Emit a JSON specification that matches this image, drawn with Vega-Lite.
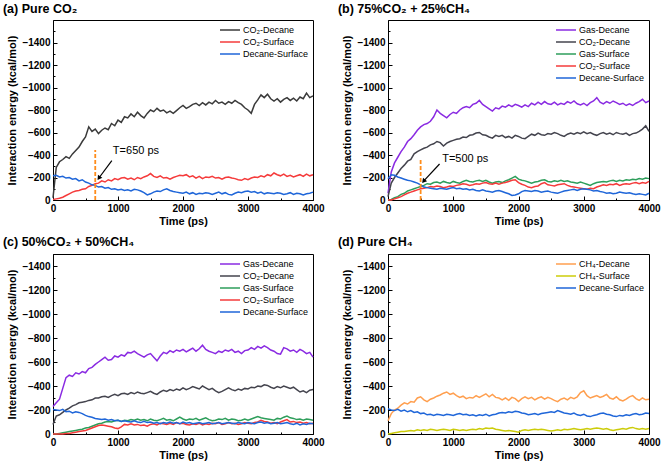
{
"$schema":"https://vega.github.io/schema/vega-lite/v6.json",
"background":"white",
"padding":{"left":2,"top":2,"right":5,"bottom":3},
"config":{
 "font":"Liberation Sans",
 "view":{"stroke":"black","strokeWidth":1},
 "axis":{"labelFont":"Liberation Sans","titleFont":"Liberation Sans","labelFontSize":10,"labelFontWeight":"bold","titleFontSize":11,"titleFontWeight":"bold","labelColor":"black","titleColor":"black","domainColor":"black","tickColor":"black","grid":false,"tickSize":-4,"labelPadding":7,"labelFlush":false,"labelOverlap":false},
 "axisX":{"titlePadding":2},
 "axisY":{"titlePadding":4},
 "legend":{"orient":"top-right","offset":3,"padding":1,"labelFont":"Liberation Sans","labelFontSize":9,"labelColor":"black","symbolType":"M-2,0H2","symbolSize":100,"symbolStrokeWidth":2,"labelOffset":7,"rowPadding":1},
 "title":{"anchor":"start","frame":"bounds","font":"Liberation Sans","fontSize":12.5,"fontWeight":"bold","color":"black","offset":5,"dx":-4},
 "line":{"strokeWidth":1.5}
},
"datasets":{
"a":[
{"t":0,"k":-20,"r":-5,"b":-215},{"t":50,"k":-290,"r":-10,"b":-220},{"t":100,"k":-340,"r":-15,"b":-205},{"t":150,"k":-360,"r":-25,"b":-210},{"t":200,"k":-385,"r":-40,"b":-195},{"t":250,"k":-370,"r":-55,"b":-200},{"t":300,"k":-410,"r":-70,"b":-185},{"t":350,"k":-440,"r":-80,"b":-190},{"t":400,"k":-470,"r":-85,"b":-170},{"t":450,"k":-520,"r":-95,"b":-180},{"t":500,"k":-560,"r":-100,"b":-160},{"t":550,"k":-650,"r":-120,"b":-150},{"t":600,"k":-610,"r":-130,"b":-135},{"t":650,"k":-630,"r":-145,"b":-130},{"t":700,"k":-590,"r":-150,"b":-115},{"t":750,"k":-620,"r":-170,"b":-120},{"t":800,"k":-640,"r":-160,"b":-105},{"t":850,"k":-625,"r":-180,"b":-110},{"t":900,"k":-680,"r":-170,"b":-95},{"t":950,"k":-660,"r":-190,"b":-100},{"t":1000,"k":-710,"r":-180,"b":-90},{"t":1050,"k":-690,"r":-195,"b":-95},{"t":1100,"k":-740,"r":-200,"b":-85},{"t":1150,"k":-730,"r":-185,"b":-90},{"t":1200,"k":-765,"r":-195,"b":-80},{"t":1250,"k":-740,"r":-180,"b":-95},{"t":1300,"k":-780,"r":-200,"b":-90},{"t":1350,"k":-750,"r":-190,"b":-80},{"t":1400,"k":-730,"r":-205,"b":-65},{"t":1450,"k":-770,"r":-215,"b":-45},{"t":1500,"k":-800,"r":-235,"b":-55},{"t":1550,"k":-785,"r":-210,"b":-70},{"t":1600,"k":-815,"r":-200,"b":-80},{"t":1650,"k":-790,"r":-215,"b":-75},{"t":1700,"k":-800,"r":-195,"b":-90},{"t":1750,"k":-775,"r":-200,"b":-100},{"t":1800,"k":-790,"r":-185,"b":-85},{"t":1850,"k":-770,"r":-200,"b":-75},{"t":1900,"k":-795,"r":-210,"b":-70},{"t":1950,"k":-820,"r":-220,"b":-65},{"t":2000,"k":-840,"r":-215,"b":-60},{"t":2050,"k":-815,"r":-225,"b":-70},{"t":2100,"k":-830,"r":-205,"b":-55},{"t":2150,"k":-850,"r":-215,"b":-65},{"t":2200,"k":-860,"r":-195,"b":-50},{"t":2250,"k":-840,"r":-210,"b":-60},{"t":2300,"k":-865,"r":-190,"b":-55},{"t":2350,"k":-845,"r":-205,"b":-65},{"t":2400,"k":-870,"r":-200,"b":-60},{"t":2450,"k":-855,"r":-210,"b":-50},{"t":2500,"k":-885,"r":-195,"b":-60},{"t":2550,"k":-860,"r":-200,"b":-70},{"t":2600,"k":-870,"r":-185,"b":-55},{"t":2650,"k":-850,"r":-200,"b":-65},{"t":2700,"k":-875,"r":-205,"b":-50},{"t":2750,"k":-860,"r":-195,"b":-45},{"t":2800,"k":-885,"r":-190,"b":-60},{"t":2850,"k":-865,"r":-180,"b":-70},{"t":2900,"k":-850,"r":-175,"b":-65},{"t":2950,"k":-820,"r":-190,"b":-75},{"t":3000,"k":-800,"r":-180,"b":-80},{"t":3050,"k":-770,"r":-195,"b":-70},{"t":3100,"k":-850,"r":-205,"b":-75},{"t":3150,"k":-890,"r":-200,"b":-60},{"t":3200,"k":-935,"r":-215,"b":-70},{"t":3250,"k":-910,"r":-205,"b":-55},{"t":3300,"k":-940,"r":-225,"b":-65},{"t":3350,"k":-900,"r":-215,"b":-60},{"t":3400,"k":-880,"r":-240,"b":-55},{"t":3450,"k":-900,"r":-225,"b":-65},{"t":3500,"k":-870,"r":-215,"b":-60},{"t":3550,"k":-895,"r":-230,"b":-50},{"t":3600,"k":-910,"r":-210,"b":-55},{"t":3650,"k":-885,"r":-220,"b":-65},{"t":3700,"k":-905,"r":-205,"b":-50},{"t":3750,"k":-880,"r":-215,"b":-60},{"t":3800,"k":-915,"r":-225,"b":-55},{"t":3850,"k":-900,"r":-210,"b":-45},{"t":3900,"k":-950,"r":-230,"b":-55},{"t":3950,"k":-910,"r":-215,"b":-60},{"t":4000,"k":-925,"r":-225,"b":-70}
],
"b":[
{"t":0,"g":-60,"k":-30,"gs":0,"r":0,"b":-190},{"t":50,"g":-250,"k":-150,"gs":-5,"r":0,"b":-225},{"t":100,"g":-330,"k":-200,"gs":-20,"r":-10,"b":-220},{"t":150,"g":-380,"k":-240,"gs":-30,"r":-20,"b":-205},{"t":200,"g":-430,"k":-280,"gs":-50,"r":-30,"b":-195},{"t":250,"g":-470,"k":-310,"gs":-60,"r":-45,"b":-185},{"t":300,"g":-520,"k":-345,"gs":-80,"r":-60,"b":-175},{"t":350,"g":-545,"k":-360,"gs":-90,"r":-70,"b":-170},{"t":400,"g":-580,"k":-410,"gs":-100,"r":-80,"b":-160},{"t":450,"g":-620,"k":-430,"gs":-110,"r":-90,"b":-150},{"t":500,"g":-650,"k":-445,"gs":-120,"r":-100,"b":-135},{"t":550,"g":-670,"k":-460,"gs":-130,"r":-105,"b":-115},{"t":600,"g":-680,"k":-470,"gs":-145,"r":-110,"b":-110},{"t":650,"g":-700,"k":-490,"gs":-140,"r":-120,"b":-105},{"t":700,"g":-740,"k":-500,"gs":-155,"r":-115,"b":-100},{"t":750,"g":-800,"k":-520,"gs":-160,"r":-125,"b":-95},{"t":800,"g":-770,"k":-510,"gs":-150,"r":-120,"b":-105},{"t":850,"g":-750,"k":-480,"gs":-165,"r":-110,"b":-100},{"t":900,"g":-730,"k":-505,"gs":-155,"r":-115,"b":-95},{"t":950,"g":-760,"k":-520,"gs":-150,"r":-125,"b":-105},{"t":1000,"g":-780,"k":-530,"gs":-165,"r":-120,"b":-110},{"t":1050,"g":-770,"k":-540,"gs":-155,"r":-130,"b":-100},{"t":1100,"g":-800,"k":-545,"gs":-150,"r":-135,"b":-105},{"t":1150,"g":-820,"k":-560,"gs":-165,"r":-145,"b":-95},{"t":1200,"g":-830,"k":-555,"gs":-175,"r":-140,"b":-100},{"t":1250,"g":-820,"k":-575,"gs":-165,"r":-130,"b":-90},{"t":1300,"g":-850,"k":-580,"gs":-160,"r":-135,"b":-95},{"t":1350,"g":-860,"k":-595,"gs":-170,"r":-145,"b":-85},{"t":1400,"g":-885,"k":-600,"gs":-175,"r":-140,"b":-80},{"t":1450,"g":-850,"k":-580,"gs":-165,"r":-150,"b":-90},{"t":1500,"g":-830,"k":-575,"gs":-175,"r":-155,"b":-80},{"t":1550,"g":-810,"k":-560,"gs":-160,"r":-145,"b":-75},{"t":1600,"g":-790,"k":-550,"gs":-150,"r":-140,"b":-70},{"t":1650,"g":-820,"k":-575,"gs":-160,"r":-150,"b":-80},{"t":1700,"g":-810,"k":-565,"gs":-165,"r":-140,"b":-85},{"t":1750,"g":-835,"k":-575,"gs":-155,"r":-150,"b":-75},{"t":1800,"g":-825,"k":-555,"gs":-170,"r":-155,"b":-65},{"t":1850,"g":-845,"k":-565,"gs":-180,"r":-165,"b":-55},{"t":1900,"g":-830,"k":-550,"gs":-195,"r":-175,"b":-40},{"t":1950,"g":-850,"k":-575,"gs":-210,"r":-180,"b":-45},{"t":2000,"g":-840,"k":-565,"gs":-185,"r":-155,"b":-55},{"t":2050,"g":-825,"k":-550,"gs":-175,"r":-140,"b":-75},{"t":2100,"g":-845,"k":-545,"gs":-170,"r":-130,"b":-85},{"t":2150,"g":-830,"k":-565,"gs":-160,"r":-115,"b":-80},{"t":2200,"g":-860,"k":-585,"gs":-150,"r":-110,"b":-75},{"t":2250,"g":-845,"k":-575,"gs":-160,"r":-120,"b":-85},{"t":2300,"g":-870,"k":-595,"gs":-165,"r":-125,"b":-80},{"t":2350,"g":-850,"k":-580,"gs":-175,"r":-145,"b":-70},{"t":2400,"g":-875,"k":-575,"gs":-180,"r":-155,"b":-75},{"t":2450,"g":-855,"k":-590,"gs":-165,"r":-135,"b":-80},{"t":2500,"g":-850,"k":-585,"gs":-160,"r":-130,"b":-70},{"t":2550,"g":-870,"k":-600,"gs":-170,"r":-125,"b":-65},{"t":2600,"g":-845,"k":-590,"gs":-165,"r":-135,"b":-60},{"t":2650,"g":-860,"k":-575,"gs":-175,"r":-140,"b":-70},{"t":2700,"g":-850,"k":-565,"gs":-165,"r":-145,"b":-80},{"t":2750,"g":-875,"k":-585,"gs":-170,"r":-130,"b":-85},{"t":2800,"g":-860,"k":-595,"gs":-160,"r":-120,"b":-90},{"t":2850,"g":-880,"k":-585,"gs":-155,"r":-115,"b":-95},{"t":2900,"g":-855,"k":-600,"gs":-150,"r":-110,"b":-85},{"t":2950,"g":-845,"k":-590,"gs":-160,"r":-105,"b":-95},{"t":3000,"g":-860,"k":-605,"gs":-150,"r":-100,"b":-100},{"t":3050,"g":-840,"k":-590,"gs":-140,"r":-95,"b":-95},{"t":3100,"g":-865,"k":-600,"gs":-130,"r":-105,"b":-90},{"t":3150,"g":-880,"k":-585,"gs":-145,"r":-100,"b":-80},{"t":3200,"g":-910,"k":-575,"gs":-155,"r":-115,"b":-85},{"t":3250,"g":-870,"k":-590,"gs":-160,"r":-125,"b":-75},{"t":3300,"g":-855,"k":-600,"gs":-165,"r":-135,"b":-70},{"t":3350,"g":-875,"k":-585,"gs":-160,"r":-130,"b":-60},{"t":3400,"g":-860,"k":-595,"gs":-170,"r":-140,"b":-65},{"t":3450,"g":-880,"k":-580,"gs":-175,"r":-135,"b":-55},{"t":3500,"g":-865,"k":-600,"gs":-165,"r":-145,"b":-60},{"t":3550,"g":-850,"k":-590,"gs":-175,"r":-130,"b":-70},{"t":3600,"g":-860,"k":-585,"gs":-170,"r":-140,"b":-65},{"t":3650,"g":-840,"k":-595,"gs":-180,"r":-145,"b":-60},{"t":3700,"g":-855,"k":-575,"gs":-175,"r":-140,"b":-65},{"t":3750,"g":-840,"k":-590,"gs":-185,"r":-150,"b":-55},{"t":3800,"g":-860,"k":-595,"gs":-180,"r":-155,"b":-50},{"t":3850,"g":-875,"k":-610,"gs":-190,"r":-145,"b":-55},{"t":3900,"g":-895,"k":-630,"gs":-185,"r":-155,"b":-50},{"t":3950,"g":-865,"k":-660,"gs":-195,"r":-150,"b":-45},{"t":4000,"g":-880,"k":-610,"gs":-190,"r":-165,"b":-60}
],
"c":[
{"t":0,"g":-230,"k":-80,"gs":0,"r":0,"b":-205},{"t":50,"g":-260,"k":-150,"gs":0,"r":0,"b":-200},{"t":100,"g":-290,"k":-160,"gs":-5,"r":0,"b":-195},{"t":150,"g":-380,"k":-180,"gs":-10,"r":0,"b":-205},{"t":200,"g":-470,"k":-200,"gs":-15,"r":-5,"b":-185},{"t":250,"g":-490,"k":-215,"gs":-20,"r":-5,"b":-190},{"t":300,"g":-480,"k":-235,"gs":-25,"r":-10,"b":-175},{"t":350,"g":-510,"k":-245,"gs":-30,"r":-15,"b":-185},{"t":400,"g":-500,"k":-260,"gs":-35,"r":-20,"b":-180},{"t":450,"g":-520,"k":-265,"gs":-40,"r":-25,"b":-170},{"t":500,"g":-510,"k":-270,"gs":-50,"r":-30,"b":-155},{"t":550,"g":-545,"k":-280,"gs":-55,"r":-40,"b":-145},{"t":600,"g":-555,"k":-285,"gs":-65,"r":-50,"b":-140},{"t":650,"g":-580,"k":-300,"gs":-75,"r":-60,"b":-130},{"t":700,"g":-600,"k":-300,"gs":-85,"r":-70,"b":-125},{"t":750,"g":-620,"k":-310,"gs":-90,"r":-75,"b":-120},{"t":800,"g":-640,"k":-315,"gs":-100,"r":-70,"b":-125},{"t":850,"g":-615,"k":-305,"gs":-105,"r":-65,"b":-115},{"t":900,"g":-620,"k":-320,"gs":-100,"r":-60,"b":-120},{"t":950,"g":-650,"k":-330,"gs":-110,"r":-50,"b":-110},{"t":1000,"g":-640,"k":-320,"gs":-115,"r":-45,"b":-115},{"t":1050,"g":-660,"k":-335,"gs":-105,"r":-60,"b":-105},{"t":1100,"g":-650,"k":-340,"gs":-115,"r":-80,"b":-110},{"t":1150,"g":-680,"k":-330,"gs":-110,"r":-75,"b":-105},{"t":1200,"g":-675,"k":-345,"gs":-120,"r":-85,"b":-100},{"t":1250,"g":-690,"k":-335,"gs":-115,"r":-75,"b":-110},{"t":1300,"g":-670,"k":-350,"gs":-125,"r":-80,"b":-100},{"t":1350,"g":-655,"k":-340,"gs":-115,"r":-70,"b":-95},{"t":1400,"g":-640,"k":-335,"gs":-120,"r":-75,"b":-105},{"t":1450,"g":-660,"k":-345,"gs":-110,"r":-65,"b":-95},{"t":1500,"g":-670,"k":-355,"gs":-125,"r":-80,"b":-100},{"t":1550,"g":-640,"k":-340,"gs":-115,"r":-85,"b":-90},{"t":1600,"g":-610,"k":-330,"gs":-110,"r":-75,"b":-95},{"t":1650,"g":-650,"k":-350,"gs":-120,"r":-90,"b":-85},{"t":1700,"g":-680,"k":-365,"gs":-130,"r":-85,"b":-95},{"t":1750,"g":-670,"k":-355,"gs":-115,"r":-80,"b":-90},{"t":1800,"g":-695,"k":-370,"gs":-120,"r":-90,"b":-100},{"t":1850,"g":-680,"k":-360,"gs":-110,"r":-80,"b":-90},{"t":1900,"g":-700,"k":-375,"gs":-125,"r":-95,"b":-95},{"t":1950,"g":-690,"k":-365,"gs":-140,"r":-85,"b":-85},{"t":2000,"g":-705,"k":-385,"gs":-125,"r":-90,"b":-100},{"t":2050,"g":-685,"k":-370,"gs":-115,"r":-80,"b":-90},{"t":2100,"g":-700,"k":-380,"gs":-125,"r":-75,"b":-95},{"t":2150,"g":-715,"k":-395,"gs":-120,"r":-85,"b":-85},{"t":2200,"g":-690,"k":-385,"gs":-130,"r":-80,"b":-90},{"t":2250,"g":-710,"k":-375,"gs":-115,"r":-90,"b":-95},{"t":2300,"g":-740,"k":-400,"gs":-125,"r":-75,"b":-85},{"t":2350,"g":-705,"k":-385,"gs":-135,"r":-85,"b":-90},{"t":2400,"g":-690,"k":-370,"gs":-120,"r":-80,"b":-95},{"t":2450,"g":-680,"k":-380,"gs":-110,"r":-90,"b":-85},{"t":2500,"g":-670,"k":-360,"gs":-115,"r":-85,"b":-90},{"t":2550,"g":-690,"k":-345,"gs":-125,"r":-95,"b":-95},{"t":2600,"g":-680,"k":-355,"gs":-120,"r":-80,"b":-85},{"t":2650,"g":-700,"k":-370,"gs":-130,"r":-85,"b":-90},{"t":2700,"g":-690,"k":-385,"gs":-115,"r":-95,"b":-95},{"t":2750,"g":-705,"k":-370,"gs":-125,"r":-85,"b":-90},{"t":2800,"g":-680,"k":-360,"gs":-120,"r":-90,"b":-85},{"t":2850,"g":-690,"k":-375,"gs":-110,"r":-80,"b":-95},{"t":2900,"g":-670,"k":-365,"gs":-115,"r":-85,"b":-90},{"t":2950,"g":-695,"k":-380,"gs":-125,"r":-95,"b":-85},{"t":3000,"g":-700,"k":-375,"gs":-115,"r":-90,"b":-95},{"t":3050,"g":-720,"k":-390,"gs":-125,"r":-85,"b":-90},{"t":3100,"g":-705,"k":-385,"gs":-135,"r":-95,"b":-85},{"t":3150,"g":-730,"k":-400,"gs":-145,"r":-100,"b":-95},{"t":3200,"g":-715,"k":-395,"gs":-135,"r":-115,"b":-100},{"t":3250,"g":-735,"k":-410,"gs":-130,"r":-105,"b":-90},{"t":3300,"g":-720,"k":-405,"gs":-125,"r":-100,"b":-95},{"t":3350,"g":-700,"k":-390,"gs":-120,"r":-90,"b":-85},{"t":3400,"g":-690,"k":-380,"gs":-115,"r":-95,"b":-90},{"t":3450,"g":-670,"k":-395,"gs":-130,"r":-85,"b":-95},{"t":3500,"g":-665,"k":-385,"gs":-125,"r":-100,"b":-85},{"t":3550,"g":-720,"k":-400,"gs":-140,"r":-110,"b":-90},{"t":3600,"g":-710,"k":-390,"gs":-150,"r":-120,"b":-95},{"t":3650,"g":-690,"k":-380,"gs":-135,"r":-100,"b":-85},{"t":3700,"g":-700,"k":-390,"gs":-130,"r":-105,"b":-80},{"t":3750,"g":-680,"k":-370,"gs":-120,"r":-95,"b":-90},{"t":3800,"g":-705,"k":-350,"gs":-125,"r":-100,"b":-75},{"t":3850,"g":-690,"k":-360,"gs":-115,"r":-90,"b":-85},{"t":3900,"g":-670,"k":-345,"gs":-125,"r":-95,"b":-80},{"t":3950,"g":-680,"k":-365,"gs":-120,"r":-85,"b":-90},{"t":4000,"g":-640,"k":-370,"gs":-115,"r":-90,"b":-85}
],
"d":[
{"t":0,"o":-110,"y":0,"b":-210},{"t":50,"o":-170,"y":-5,"b":-200},{"t":100,"o":-200,"y":-10,"b":-195},{"t":150,"o":-215,"y":-15,"b":-205},{"t":200,"o":-240,"y":-20,"b":-190},{"t":250,"o":-260,"y":-20,"b":-200},{"t":300,"o":-250,"y":-25,"b":-185},{"t":350,"o":-270,"y":-30,"b":-195},{"t":400,"o":-265,"y":-25,"b":-180},{"t":450,"o":-300,"y":-35,"b":-185},{"t":500,"o":-310,"y":-30,"b":-170},{"t":550,"o":-285,"y":-35,"b":-175},{"t":600,"o":-270,"y":-30,"b":-160},{"t":650,"o":-290,"y":-40,"b":-165},{"t":700,"o":-300,"y":-35,"b":-155},{"t":750,"o":-315,"y":-30,"b":-165},{"t":800,"o":-325,"y":-35,"b":-160},{"t":850,"o":-340,"y":-40,"b":-155},{"t":900,"o":-350,"y":-35,"b":-165},{"t":950,"o":-330,"y":-30,"b":-160},{"t":1000,"o":-340,"y":-40,"b":-155},{"t":1050,"o":-320,"y":-35,"b":-165},{"t":1100,"o":-305,"y":-30,"b":-170},{"t":1150,"o":-315,"y":-35,"b":-160},{"t":1200,"o":-295,"y":-30,"b":-165},{"t":1250,"o":-305,"y":-35,"b":-155},{"t":1300,"o":-300,"y":-40,"b":-160},{"t":1350,"o":-320,"y":-35,"b":-150},{"t":1400,"o":-305,"y":-45,"b":-160},{"t":1450,"o":-320,"y":-40,"b":-155},{"t":1500,"o":-335,"y":-50,"b":-165},{"t":1550,"o":-310,"y":-45,"b":-150},{"t":1600,"o":-330,"y":-50,"b":-160},{"t":1650,"o":-305,"y":-40,"b":-165},{"t":1700,"o":-300,"y":-35,"b":-175},{"t":1750,"o":-285,"y":-30,"b":-180},{"t":1800,"o":-300,"y":-25,"b":-175},{"t":1850,"o":-280,"y":-30,"b":-185},{"t":1900,"o":-305,"y":-25,"b":-180},{"t":1950,"o":-295,"y":-20,"b":-190},{"t":2000,"o":-270,"y":-15,"b":-185},{"t":2050,"o":-295,"y":-30,"b":-175},{"t":2100,"o":-310,"y":-35,"b":-170},{"t":2150,"o":-295,"y":-30,"b":-160},{"t":2200,"o":-305,"y":-35,"b":-165},{"t":2250,"o":-285,"y":-40,"b":-170},{"t":2300,"o":-300,"y":-35,"b":-160},{"t":2350,"o":-310,"y":-40,"b":-170},{"t":2400,"o":-290,"y":-35,"b":-175},{"t":2450,"o":-305,"y":-30,"b":-180},{"t":2500,"o":-295,"y":-25,"b":-185},{"t":2550,"o":-280,"y":-30,"b":-180},{"t":2600,"o":-270,"y":-35,"b":-195},{"t":2650,"o":-290,"y":-30,"b":-185},{"t":2700,"o":-300,"y":-40,"b":-175},{"t":2750,"o":-285,"y":-35,"b":-170},{"t":2800,"o":-305,"y":-40,"b":-165},{"t":2850,"o":-295,"y":-45,"b":-175},{"t":2900,"o":-310,"y":-40,"b":-160},{"t":2950,"o":-345,"y":-35,"b":-155},{"t":3000,"o":-360,"y":-40,"b":-165},{"t":3050,"o":-320,"y":-45,"b":-150},{"t":3100,"o":-300,"y":-40,"b":-145},{"t":3150,"o":-310,"y":-45,"b":-155},{"t":3200,"o":-320,"y":-50,"b":-160},{"t":3250,"o":-305,"y":-45,"b":-170},{"t":3300,"o":-315,"y":-40,"b":-175},{"t":3350,"o":-330,"y":-45,"b":-165},{"t":3400,"o":-300,"y":-35,"b":-160},{"t":3450,"o":-290,"y":-30,"b":-150},{"t":3500,"o":-310,"y":-35,"b":-145},{"t":3550,"o":-285,"y":-40,"b":-155},{"t":3600,"o":-275,"y":-45,"b":-150},{"t":3650,"o":-290,"y":-40,"b":-160},{"t":3700,"o":-310,"y":-50,"b":-155},{"t":3750,"o":-320,"y":-55,"b":-165},{"t":3800,"o":-295,"y":-45,"b":-170},{"t":3850,"o":-280,"y":-40,"b":-160},{"t":3900,"o":-300,"y":-45,"b":-165},{"t":3950,"o":-285,"y":-40,"b":-175},{"t":4000,"o":-290,"y":-45,"b":-170}
],
"arrowA":[{"t":905,"v":-350},{"t":712,"v":-200}],
"arrowB":[{"t":790,"v":-320},{"t":553,"v":-172}]
},
"spacing":8,
"resolve":{"scale":{"color":"independent"},"legend":{"color":"independent"}},
"vconcat":[
{"hconcat":[
 {"title":{"text":"(a) Pure CO₂"},"width":260,"height":180,
  "resolve":{"axis":{"x":"independent","y":"independent"}},
  "layer":[
   {"data":{"name":"a"},"transform":[{"fold":["k","r","b"],"as":["s","v"]}],
    "mark":{"type":"line"},
    "encoding":{
     "x":{"field":"t","type":"quantitative","scale":{"domain":[0,4000]},"axis":{"values":[0,1000,2000,3000,4000],"format":"d","title":"Time (ps)"}},
     "y":{"field":"v","type":"quantitative","scale":{"domain":[-1500,0],"reverse":true},"axis":{"values":[0,-200,-400,-600,-800,-1000,-1200,-1400],"format":"d","title":"Interaction energy (kcal/mol)"}},
     "color":{"field":"s","type":"nominal","title":null,"scale":{"domain":["k","r","b"],"range":["#3a3a3a","#f53b3b","#1f66d9"]},"legend":{"labelExpr":"datum.label=='k'?'CO₂-Decane':datum.label=='r'?'CO₂-Surface':'Decane-Surface'"}}}},
   {"data":{"name":"a"},"mark":{"type":"point","opacity":0},
    "encoding":{
     "x":{"field":"t","type":"quantitative","scale":{"domain":[0,4000]},"axis":{"values":[500,1500,2500,3500],"labels":false,"domain":false,"tickSize":-2,"title":null,"orient":"bottom"}},
     "y":{"field":"k","type":"quantitative","scale":{"domain":[-1500,0],"reverse":true},"axis":{"values":[-100,-300,-500,-700,-900,-1100,-1300,-1500],"labels":false,"domain":false,"tickSize":-2,"title":null,"orient":"left"}}}},
   {"data":{"values":[{"t":650,"v0":0,"v1":-445}]},"mark":{"type":"rule","color":"#ff8c1a","strokeWidth":1.8,"strokeDash":[4,2]},
    "encoding":{"x":{"field":"t","type":"quantitative","axis":null},"y":{"field":"v0","type":"quantitative","axis":null},"y2":{"field":"v1"}}},
   {"data":{"values":[{"t":921,"v":-440,"label":"T=650 ps"}]},"mark":{"type":"text","align":"left","baseline":"middle","fontSize":11,"color":"black"},
    "encoding":{"x":{"field":"t","type":"quantitative","axis":null},"y":{"field":"v","type":"quantitative","axis":null},"text":{"field":"label"}}},
   {"data":{"name":"arrowA"},"mark":{"type":"line","color":"black","strokeWidth":1.2},
    "encoding":{"x":{"field":"t","type":"quantitative","axis":null},"y":{"field":"v","type":"quantitative","axis":null}}},
   {"data":{"values":[{"t":712,"v":-200}]},"mark":{"type":"point","shape":"triangle","filled":true,"color":"black","opacity":1,"size":28,"angle":214},
    "encoding":{"x":{"field":"t","type":"quantitative","axis":null},"y":{"field":"v","type":"quantitative","axis":null}}}
  ]},
 {"title":{"text":"(b) 75%CO₂ + 25%CH₄"},"width":261,"height":180,
  "resolve":{"axis":{"x":"independent","y":"independent"}},
  "layer":[
   {"data":{"name":"b"},"transform":[{"fold":["g","k","gs","r","b"],"as":["s","v"]}],
    "mark":{"type":"line"},
    "encoding":{
     "x":{"field":"t","type":"quantitative","scale":{"domain":[0,4000]},"axis":{"values":[0,1000,2000,3000,4000],"format":"d","title":"Time (ps)"}},
     "y":{"field":"v","type":"quantitative","scale":{"domain":[-1500,0],"reverse":true},"axis":{"values":[0,-200,-400,-600,-800,-1000,-1200,-1400],"format":"d","title":"Interaction energy (kcal/mol)"}},
     "color":{"field":"s","type":"nominal","title":null,"scale":{"domain":["g","k","gs","r","b"],"range":["#8a2be2","#44444e","#2e9e5b","#f53b3b","#1f66d9"]},"legend":{"labelExpr":"datum.label=='g'?'Gas-Decane':datum.label=='k'?'CO₂-Decane':datum.label=='gs'?'Gas-Surface':datum.label=='r'?'CO₂-Surface':'Decane-Surface'"}}}},
   {"data":{"name":"b"},"mark":{"type":"point","opacity":0},
    "encoding":{
     "x":{"field":"t","type":"quantitative","scale":{"domain":[0,4000]},"axis":{"values":[500,1500,2500,3500],"labels":false,"domain":false,"tickSize":-2,"title":null,"orient":"bottom"}},
     "y":{"field":"k","type":"quantitative","scale":{"domain":[-1500,0],"reverse":true},"axis":{"values":[-100,-300,-500,-700,-900,-1100,-1300,-1500],"labels":false,"domain":false,"tickSize":-2,"title":null,"orient":"left"}}}},
   {"data":{"values":[{"t":500,"v0":0,"v1":-370}]},"mark":{"type":"rule","color":"#ff8c1a","strokeWidth":1.8,"strokeDash":[4,2]},
    "encoding":{"x":{"field":"t","type":"quantitative","axis":null},"y":{"field":"v0","type":"quantitative","axis":null},"y2":{"field":"v1"}}},
   {"data":{"values":[{"t":830,"v":-363,"label":"T=500 ps"}]},"mark":{"type":"text","align":"left","baseline":"middle","fontSize":11,"color":"black"},
    "encoding":{"x":{"field":"t","type":"quantitative","axis":null},"y":{"field":"v","type":"quantitative","axis":null},"text":{"field":"label"}}},
   {"data":{"name":"arrowB"},"mark":{"type":"line","color":"black","strokeWidth":1.2},
    "encoding":{"x":{"field":"t","type":"quantitative","axis":null},"y":{"field":"v","type":"quantitative","axis":null}}},
   {"data":{"values":[{"t":553,"v":-172}]},"mark":{"type":"point","shape":"triangle","filled":true,"color":"black","opacity":1,"size":28,"angle":220},
    "encoding":{"x":{"field":"t","type":"quantitative","axis":null},"y":{"field":"v","type":"quantitative","axis":null}}}
  ]}
 ],"spacing":75,"bounds":"flush","resolve":{"scale":{"color":"independent"},"legend":{"color":"independent"}}},
{"hconcat":[
 {"title":{"text":"(c) 50%CO₂ + 50%CH₄"},"width":260,"height":180,
  "resolve":{"axis":{"x":"independent","y":"independent"}},
  "layer":[
   {"data":{"name":"c"},"transform":[{"fold":["g","k","gs","r","b"],"as":["s","v"]}],
    "mark":{"type":"line"},
    "encoding":{
     "x":{"field":"t","type":"quantitative","scale":{"domain":[0,4000]},"axis":{"values":[0,1000,2000,3000,4000],"format":"d","title":"Time (ps)"}},
     "y":{"field":"v","type":"quantitative","scale":{"domain":[-1500,0],"reverse":true},"axis":{"values":[0,-200,-400,-600,-800,-1000,-1200,-1400],"format":"d","title":"Interaction energy (kcal/mol)"}},
     "color":{"field":"s","type":"nominal","title":null,"scale":{"domain":["g","k","gs","r","b"],"range":["#8a2be2","#44444e","#2e9e5b","#f53b3b","#1f66d9"]},"legend":{"labelExpr":"datum.label=='g'?'Gas-Decane':datum.label=='k'?'CO₂-Decane':datum.label=='gs'?'Gas-Surface':datum.label=='r'?'CO₂-Surface':'Decane-Surface'"}}}},
   {"data":{"name":"c"},"mark":{"type":"point","opacity":0},
    "encoding":{
     "x":{"field":"t","type":"quantitative","scale":{"domain":[0,4000]},"axis":{"values":[500,1500,2500,3500],"labels":false,"domain":false,"tickSize":-2,"title":null,"orient":"bottom"}},
     "y":{"field":"k","type":"quantitative","scale":{"domain":[-1500,0],"reverse":true},"axis":{"values":[-100,-300,-500,-700,-900,-1100,-1300,-1500],"labels":false,"domain":false,"tickSize":-2,"title":null,"orient":"left"}}}}
  ]},
 {"title":{"text":"(d) Pure CH₄"},"width":261,"height":180,
  "resolve":{"axis":{"x":"independent","y":"independent"}},
  "layer":[
   {"data":{"name":"d"},"transform":[{"fold":["o","y","b"],"as":["s","v"]}],
    "mark":{"type":"line"},
    "encoding":{
     "x":{"field":"t","type":"quantitative","scale":{"domain":[0,4000]},"axis":{"values":[0,1000,2000,3000,4000],"format":"d","title":"Time (ps)"}},
     "y":{"field":"v","type":"quantitative","scale":{"domain":[-1500,0],"reverse":true},"axis":{"values":[0,-200,-400,-600,-800,-1000,-1200,-1400],"format":"d","title":"Interaction energy (kcal/mol)"}},
     "color":{"field":"s","type":"nominal","title":null,"scale":{"domain":["o","y","b"],"range":["#ff9f4f","#cccc0a","#1f66d9"]},"legend":{"labelExpr":"datum.label=='o'?'CH₄-Decane':datum.label=='y'?'CH₄-Surface':'Decane-Surface'"}}}},
   {"data":{"name":"d"},"mark":{"type":"point","opacity":0},
    "encoding":{
     "x":{"field":"t","type":"quantitative","scale":{"domain":[0,4000]},"axis":{"values":[500,1500,2500,3500],"labels":false,"domain":false,"tickSize":-2,"title":null,"orient":"bottom"}},
     "y":{"field":"o","type":"quantitative","scale":{"domain":[-1500,0],"reverse":true},"axis":{"values":[-100,-300,-500,-700,-900,-1100,-1300,-1500],"labels":false,"domain":false,"tickSize":-2,"title":null,"orient":"left"}}}}
  ]}
 ],"spacing":75,"bounds":"flush","resolve":{"scale":{"color":"independent"},"legend":{"color":"independent"}}}
]
}
